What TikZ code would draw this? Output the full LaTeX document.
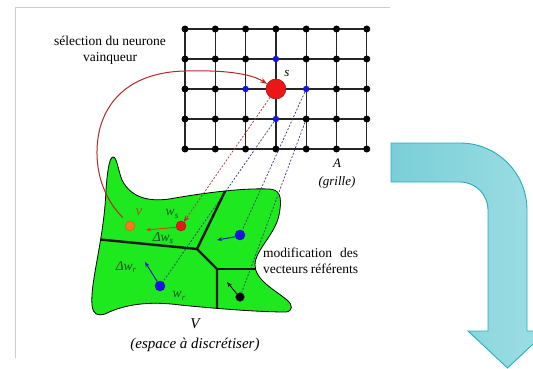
\documentclass[tikz,border=0pt]{standalone}
\usepackage{fontspec}
\setmainfont{Liberation Serif}
\usetikzlibrary{arrows.meta,calc}
\definecolor{framegray}{RGB}{205,205,205}
\definecolor{blobgreen}{RGB}{30,232,30}
\definecolor{sred}{RGB}{235,22,22}
\definecolor{darkred}{RGB}{150,20,20}
\definecolor{arcred}{RGB}{180,40,35}
\definecolor{vorange}{RGB}{245,120,30}
\definecolor{dotblue}{RGB}{20,20,230}
\definecolor{dashnavy}{RGB}{50,55,120}
\definecolor{dashred}{RGB}{175,50,50}
\definecolor{lblgreen}{RGB}{25,80,25}
\definecolor{vlbl}{RGB}{150,95,25}
\definecolor{arrowedge}{RGB}{35,175,190}
\definecolor{arrowleft}{RGB}{122,206,215}
\definecolor{arrowright}{RGB}{158,222,228}
\definecolor{dwsred}{RGB}{225,60,20}
\tikzset{
  gridline/.style={line width=1.2pt, black!85},
  blackdot/.style={circle, fill=black, inner sep=0pt, minimum size=7pt},
  gbluedot/.style={circle, fill=dotblue, inner sep=0pt, minimum size=6.5pt},
  snode/.style={circle, fill=sred, draw=darkred, line width=0.5pt, inner sep=0pt, minimum size=20pt},
  bigdot/.style={circle, draw=black!70, line width=0.4pt, inner sep=0pt, minimum size=10pt},
  voronoi/.style={line width=2.4pt, black!90},
  dashline/.style={dash pattern=on 2pt off 1.6pt, line width=0.7pt},
  smallarrow/.style={line width=0.9pt, -{Stealth[length=5pt,width=4pt]}},
  maintext/.style={font=\fontsize{13.5}{15.5}\selectfont, inner sep=0pt},
  italbl/.style={font=\fontsize{13}{15}\selectfont\itshape, inner sep=0pt},
  biglbl/.style={font=\fontsize{15}{17}\selectfont\itshape, inner sep=0pt},
  smalllbl/.style={font=\fontsize{13.5}{15}\selectfont\itshape, text=lblgreen, inner sep=0pt},
}
\begin{document}
\begin{tikzpicture}[x=1pt,y=-1pt]
\useasboundingbox (0,0) rectangle (533,369);
\clip (0,0) rectangle (533,369);
% frame
\draw[framegray, line width=0.8pt] (15,358) -- (15,7) -- (390,7);
% big curved arrow
\shade[left color=arrowleft, right color=arrowright, draw=arrowedge, line width=0.9pt]
  (391,143) -- (460,143) .. controls (497,143) and (527,173) .. (527,210)
  -- (527,331) -- (547,331) -- (507.5,368) -- (468,331) -- (488,331) -- (488,210)
  .. controls (488,194.5) and (475.5,182) .. (460,182) -- (391,182) -- cycle;
% grid
\foreach \i in {0,...,6}{\foreach \j in {0,...,4}{
  \coordinate (g-\i-\j) at ({185+30.3*\i},{29+30*\j});}}
\foreach \j in {0,...,4}{\draw[gridline] (g-0-\j) -- (g-6-\j);}
\foreach \i in {0,...,6}{\draw[gridline] (g-\i-0) -- (g-\i-4);}
\foreach \i in {0,...,6}{\foreach \j in {0,...,4}{
  \pgfmathtruncatemacro{\k}{((\i==3)&&(\j==1))||((\i==2)&&(\j==2))||((\i==4)&&(\j==2))||((\i==3)&&(\j==3))||((\i==3)&&(\j==2))}
  \ifnum\k=0 \node[blackdot] (d-\i-\j) at (g-\i-\j) {};\fi
}}
\node[gbluedot] (d-3-1) at (g-3-1) {};
\node[gbluedot] (d-2-2) at (g-2-2) {};
\node[gbluedot] (d-4-2) at (g-4-2) {};
\node[gbluedot] (d-3-3) at (g-3-3) {};
\node[snode] (s) at (g-3-2) {};
% blob
\def\blobpath{(113,157) .. controls (109,157) and (107,175) .. (106,190)
  .. controls (104,240) and (90,282) .. (92,305)
  .. controls (93,315) and (98,316) .. (105,314)
  .. controls (125,304) and (150,301) .. (180,305)
  .. controls (220,309) and (260,312) .. (286,312)
  .. controls (293,311) and (293,305) .. (287,300)
  .. controls (275,290) and (255,280) .. (255,265)
  .. controls (255,250) and (275,235) .. (279,215)
  .. controls (283,195) and (279,189) .. (268,189)
  .. controls (245,188) and (210,192) .. (175,198)
  .. controls (150,203) and (131,198) .. (122,180)
  .. controls (118,170) and (117,157) .. (113,157) -- cycle}
\fill[blobgreen] \blobpath;
\coordinate (J1) at (197,249);
\coordinate (J2) at (217,269);
\coordinate (L1) at (95,239);
\coordinate (L2) at (232,177);
\coordinate (L4) at (217,320);
\coordinate (L5) at (270,269);
\begin{scope}
\clip \blobpath;
\draw[voronoi] (L1) -- (J1) -- (L2);
\draw[voronoi] (J1) -- (J2) -- (L4);
\draw[voronoi] (J2) -- (L5);
\end{scope}
\draw[black, line width=0.8pt] \blobpath;
% dots in blob
\node[bigdot, fill=vorange, draw=vorange!80!black] (v) at (130,226) {};
\node[bigdot, fill=sred, draw=darkred] (ws) at (181,226) {};
\node[bigdot, fill=dotblue, draw=dotblue!70!black] (b1) at (240,235) {};
\node[bigdot, fill=dotblue, draw=dotblue!70!black] (wr) at (160,286) {};
\node[bigdot, fill=black, minimum size=9pt] (bk) at (240,297) {};
% dashed correspondences
\draw[dashline, dashred, -{Stealth[length=6pt,width=5pt]}] (s) -- (ws);
\draw[dashline, dashnavy] (d-3-3) -- (wr);
\draw[dashline, dashnavy] (d-4-2) -- (b1);
\draw[dashline, dashnavy] (d-4-3) -- (bk);
% small arrows
\coordinate (dwsend) at (146,230);
\coordinate (b1end) at (217,240);
\coordinate (wrend) at (145,262);
\coordinate (bkend) at (227,282);
\draw[smallarrow, dwsred] (ws.195) -- (dwsend);
\draw[smallarrow, dotblue!80!black] (b1.200) -- (b1end);
\draw[smallarrow, dotblue!80!black] (wr.122) -- (wrend);
\draw[smallarrow, black] (bk.135) -- (bkend);
% red selection arc
\draw[arcred, line width=1pt, shorten <=6pt, -{Stealth[length=7pt,width=5pt]}]
  (v.125) .. controls (100,195) and (92,160) .. (100,128)
  .. controls (110,92) and (140,72) .. (185,71)
  .. controls (222,70) and (250,73) .. (s.150);
% texts
\node[maintext, align=center] (sel) at (110,50) {sélection du neurone\\vainqueur};
\node[italbl] (slbl) at (287,74) {s};
\node[italbl] (albl) at (337,163) {A};
\node[italbl] (grille) at (337,182) {(grille)};
\node[maintext, anchor=west, align=left] (modif) at (263,261)
  {\makebox[95pt][s]{modification des}\\\makebox[95pt][s]{vecteurs référents}};
\node[biglbl] (Vlbl) at (195,324) {V};
\node[biglbl] (espace) at (195,345) {(espace à discrétiser)};
\node[font=\fontsize{15}{17}\selectfont\itshape, text=vlbl, inner sep=0pt] (vlbl) at (139,212) {v};
\node[smalllbl] (wslbl) at (172,214) {w\raisebox{-2.5pt}{\fontsize{9}{10}\selectfont s}};
\node[smalllbl] (dwslbl) at (163,238) {Δw\raisebox{-2.5pt}{\fontsize{9}{10}\selectfont s}};
\node[smalllbl] (dwrlbl) at (126,267) {Δw\raisebox{-2.5pt}{\fontsize{9}{10}\selectfont r}};
\node[smalllbl] (wrlbl) at (179,296) {w\raisebox{-2.5pt}{\fontsize{9}{10}\selectfont r}};
\end{tikzpicture}
\end{document}
